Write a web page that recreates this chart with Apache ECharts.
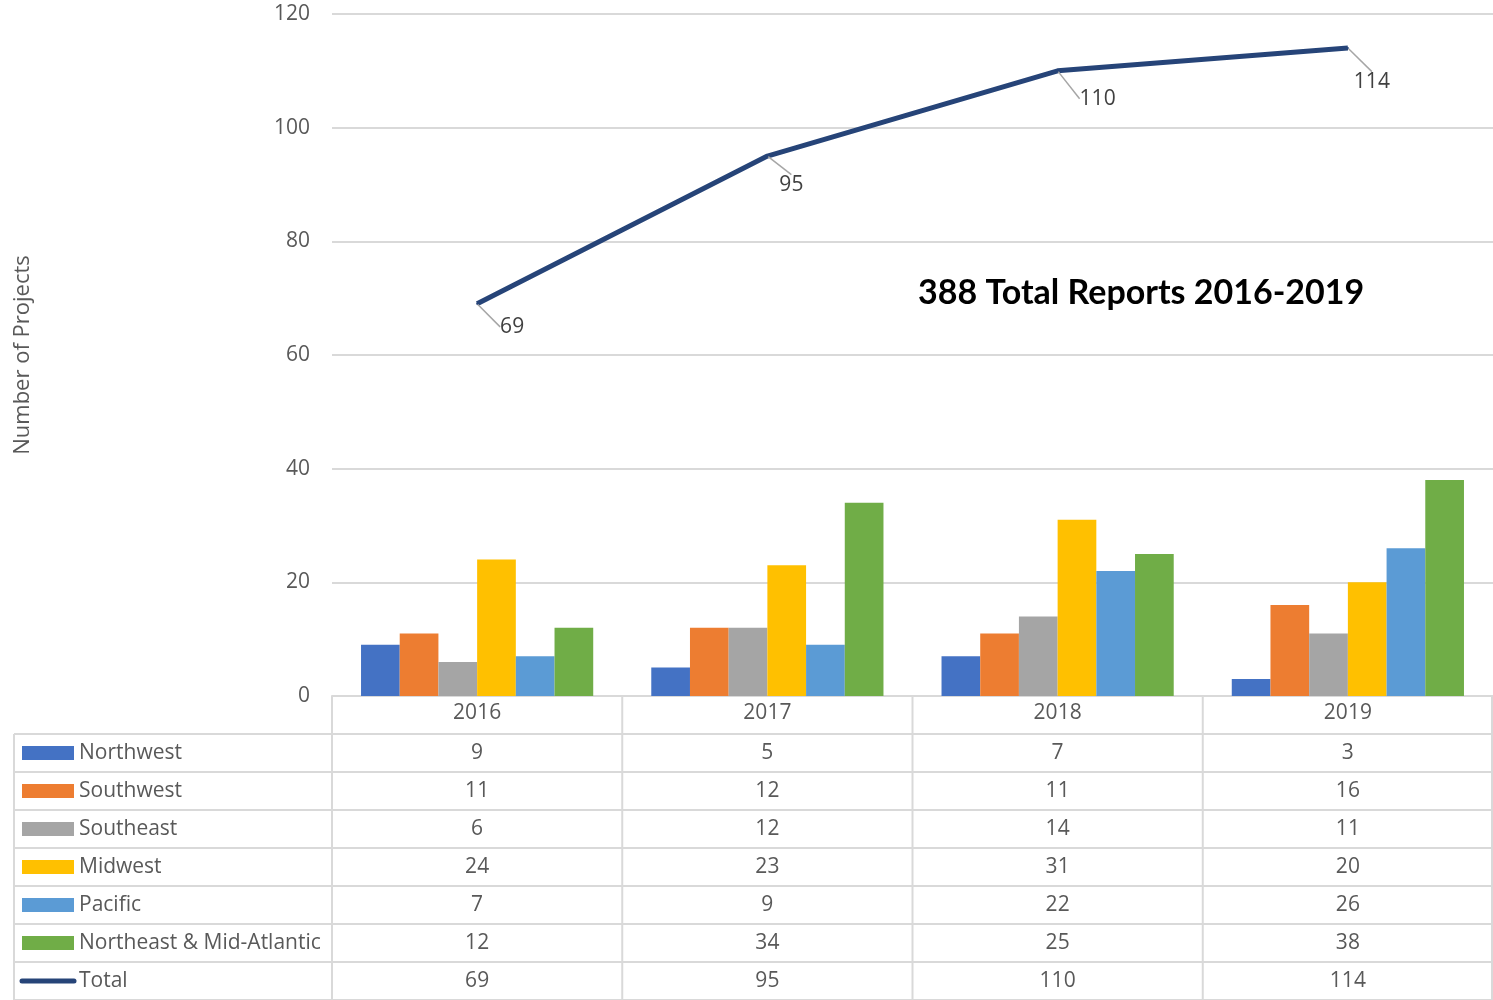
<!DOCTYPE html>
<html>
<head>
<meta charset="utf-8">
<script src="https://cdn.jsdelivr.net/npm/echarts@6/dist/echarts.min.js"></script>
<style>
  html, body { margin: 0; padding: 0; background: #fff; }
  #main { width: 1493px; height: 1000px; }
</style>
</head>
<body>
<div id="main"></div>
<script>
// data
var years = ['2016', '2017', '2018', '2019'];
var regions = ['Northwest', 'Southwest', 'Southeast', 'Midwest', 'Pacific', 'Northeast & Mid-Atlantic'];
var northwest = [9, 5, 7, 3];
var southwest = [11, 12, 11, 16];
var southeast = [6, 12, 14, 11];
var midwest = [24, 23, 31, 20];
var pacific = [7, 9, 22, 26];
var northeast = [12, 34, 25, 38];
var total = [69, 95, 110, 114];
var yTicks = [0, 20, 40, 60, 80, 100, 120];

var regionValues = [northwest, southwest, southeast, midwest, pacific, northeast];
var colors = ['#4472C4', '#ED7D31', '#A5A5A5', '#FFC000', '#5B9BD5', '#70AD47'];
var totalColor = '#264478';
// where each total label sits relative to its point
var labelShift = [[35, 23], [24, 29], [40, 28], [24, 34]];

var FONT = 'Open Sans';
var FS = 21;
var TXT = '#595959';
var LINE = '#d9d9d9';

var gridLeft = 332, gridTop = 14, gridW = 1161, gridBottomY = 696;
var catW = gridW / years.length;
var tableTop = 734, rowH = 38;

var chart = echarts.init(document.getElementById('main'));

var series = regions.map(function (name, i) {
  return {
    name: name,
    type: 'bar',
    data: regionValues[i],
    barGap: '0%',
    barCategoryGap: '20%',
    itemStyle: { color: colors[i] },
    z: 2
  };
});

series.push({
  name: 'Total',
  type: 'line',
  data: total,
  symbol: 'circle',
  symbolSize: 2,
  lineStyle: { color: totalColor, width: 5 },
  itemStyle: { color: totalColor },
  label: {
    show: true,
    position: 'inside',
    color: '#404040',
    fontSize: FS,
    fontFamily: FONT
  },
  labelLayout: function (params) {
    var s = labelShift[params.dataIndex];
    return { dx: s[0], dy: s[1] };
  },
  labelLine: { show: true, lineStyle: { color: '#a6a6a6', width: 1.5 } },
  z: 5
});

// data table under the plot
var graphics = [];
function hline(x1, x2, y) {
  graphics.push({ type: 'line', shape: { x1: x1, y1: y, x2: x2, y2: y }, style: { stroke: LINE, lineWidth: 2 }, silent: true });
}
function vline(x, y1, y2) {
  graphics.push({ type: 'line', shape: { x1: x, y1: y1, x2: x, y2: y2 }, style: { stroke: LINE, lineWidth: 2 }, silent: true });
}

var rowCount = regions.length + 1;
for (var r = 0; r <= rowCount; r++) {
  hline(14, 1493, tableTop + r * rowH);
}
vline(14, tableTop, tableTop + rowCount * rowH);
for (var c = 0; c <= years.length; c++) {
  var x = Math.min(gridLeft + c * catW, 1492);
  vline(x, gridBottomY, tableTop + rowCount * rowH);
}

var rowNames = regions.concat(['Total']);
var rowValues = regionValues.concat([total]);
rowNames.forEach(function (name, r) {
  var cy = tableTop + r * rowH + rowH / 2;
  if (r < regions.length) {
    graphics.push({ type: 'rect', shape: { x: 22, y: cy - 7, width: 52, height: 14 }, style: { fill: colors[r] }, silent: true });
  } else {
    graphics.push({ type: 'line', shape: { x1: 22, y1: cy, x2: 74, y2: cy }, style: { stroke: totalColor, lineWidth: 5, lineCap: 'round' }, silent: true });
  }
  graphics.push({
    type: 'text', x: 79, y: cy,
    style: { text: name, fill: TXT, font: FS + 'px ' + FONT, textAlign: 'left', textVerticalAlign: 'middle' },
    silent: true
  });
  rowValues[r].forEach(function (v, c) {
    graphics.push({
      type: 'text', x: gridLeft + (c + 0.5) * catW, y: cy,
      style: { text: String(v), fill: TXT, font: FS + 'px ' + FONT, textAlign: 'center', textVerticalAlign: 'middle' },
      silent: true
    });
  });
});

graphics.push({
  type: 'text', x: 918, y: 293,
  style: { text: '388 Total Reports 2016-2019', fill: '#000', font: 'bold 34px Lato', textAlign: 'left', textVerticalAlign: 'middle' },
  silent: true
});

var option = {
  animation: false,
  backgroundColor: '#fff',
  grid: { left: gridLeft, top: gridTop, width: gridW, height: gridBottomY - gridTop, containLabel: false },
  xAxis: {
    type: 'category',
    data: years,
    axisLine: { lineStyle: { color: LINE, width: 2 } },
    axisTick: { show: false },
    axisLabel: { color: TXT, fontSize: FS, fontFamily: FONT, margin: 7 }
  },
  yAxis: {
    type: 'value',
    min: yTicks[0],
    max: yTicks[yTicks.length - 1],
    interval: 20,
    name: 'Number of Projects',
    nameLocation: 'middle',
    nameGap: 298,
    nameTextStyle: { color: TXT, fontSize: 22, fontFamily: FONT },
    axisLine: { show: false },
    axisTick: { show: false },
    axisLabel: { color: TXT, fontSize: FS, fontFamily: FONT, margin: 22 },
    splitLine: { lineStyle: { color: LINE, width: 2 } }
  },
  graphic: graphics,
  series: series
};

chart.setOption(option);
</script>
</body>
</html>
